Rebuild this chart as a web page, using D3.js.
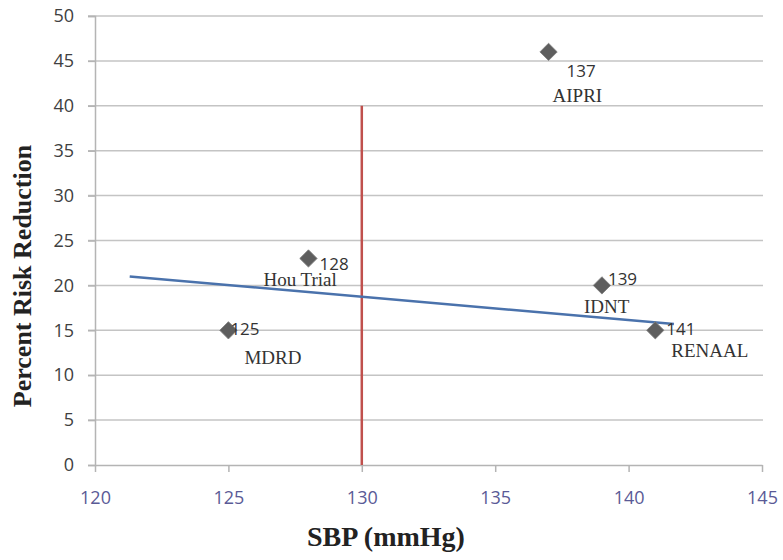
<!DOCTYPE html>
<html><head><meta charset="utf-8">
<script src="https://cdn.jsdelivr.net/npm/d3@7"></script>
<style>body{margin:0;background:#fff}</style>
</head><body>
<svg id="c" width="783" height="560"></svg>
<script>
const sbp = [125, 128, 137, 139, 141];
const reduction = [15, 23, 46, 20, 15];
const trials = ["MDRD", "Hou Trial", "AIPRI", "IDNT", "RENAAL"];
const xTicks = [120, 125, 130, 135, 140, 145];
const yTicks = [0, 5, 10, 15, 20, 25, 30, 35, 40, 45, 50];
const trendX = [121.3, 141.7];
const trendY = [21.0, 15.7];
const thresholdX = [130, 130];
const thresholdY = [0, 40];

const svg = d3.select("#c");
const x = d3.scaleLinear().domain([120, 145]).range([95, 762]);
const y = d3.scaleLinear().domain([0, 50]).range([465, 16]);

// gridlines
svg.append("g").selectAll("line").data(yTicks.filter(d => d > 0)).join("line")
  .attr("x1", 88).attr("x2", 763).attr("y1", d => y(d)).attr("y2", d => y(d))
  .attr("stroke", "#c4c4c4").attr("stroke-width", 1.5);

// y axis
const ya = svg.append("g").attr("transform", "translate(95,0)")
  .call(d3.axisLeft(y).tickValues(yTicks).tickSize(7).tickPadding(14));
ya.select(".domain").attr("stroke", "#b4b4b4").attr("stroke-width", 1.5);
ya.selectAll(".tick line").attr("stroke", "#b4b4b4").attr("stroke-width", 1.5);
ya.selectAll("text").attr("font-family", "'Open Sans', sans-serif").attr("font-size", 18).attr("fill", "#404040");

// x axis
const xa = svg.append("g").attr("transform", "translate(0,465)")
  .call(d3.axisBottom(x).tickValues(xTicks).tickSize(7).tickSizeOuter(0).tickPadding(19));
xa.select(".domain").attr("stroke", "#b4b4b4").attr("stroke-width", 1.5);
xa.selectAll(".tick line").attr("stroke", "#b4b4b4").attr("stroke-width", 1.5);
xa.selectAll("text").attr("font-family", "'Open Sans', sans-serif").attr("font-size", 18).attr("fill", "#5a5a96");

// threshold line
svg.append("line")
  .attr("x1", x(thresholdX[0])).attr("x2", x(thresholdX[1]))
  .attr("y1", y(thresholdY[0])).attr("y2", y(thresholdY[1]))
  .attr("stroke", "#c0504d").attr("stroke-width", 2.5);

// trend line
svg.append("line")
  .attr("x1", x(trendX[0])).attr("x2", x(trendX[1]))
  .attr("y1", y(trendY[0])).attr("y2", y(trendY[1]))
  .attr("stroke", "#4a72ac").attr("stroke-width", 2.5);

const pts = sbp.map((v, i) => ({x: v, y: reduction[i], name: trials[i]}));

// diamonds
svg.append("g").selectAll("path").data(pts).join("path")
  .attr("d", d3.symbol().type(d3.symbolSquare).size(150))
  .attr("transform", d => `translate(${x(d.x)},${y(d.y)}) rotate(45)`)
  .attr("fill", "#5e5e5e").attr("stroke", "#808080").attr("stroke-width", 0.8);

// labels: value and trial name offsets
const numOff = [[2, 5], [11, 12], [18, 25], [6, 0], [11, 5]];
const nameOff = [[16, 34], [-45, 28], [4, 50], [-18, 28], [16, 27]];
const lab = svg.append("g");
lab.selectAll("text.n").data(pts).join("text").attr("class", "n")
  .attr("x", (d, i) => x(d.x) + numOff[i][0]).attr("y", (d, i) => y(d.y) + numOff[i][1])
  .attr("font-family", "'Open Sans', sans-serif").attr("font-size", 17).attr("fill", "#333")
  .text(d => d.x);
lab.selectAll("text.t").data(pts).join("text").attr("class", "t")
  .attr("x", (d, i) => x(d.x) + nameOff[i][0]).attr("y", (d, i) => y(d.y) + nameOff[i][1])
  .attr("font-family", "'Liberation Serif', 'DejaVu Serif', serif").attr("font-size", 19).attr("fill", "#333")
  .text(d => d.name);

// axis titles
svg.append("text").attr("x", 386).attr("y", 546).attr("text-anchor", "middle")
  .attr("font-family", "'Liberation Serif', serif").attr("font-weight", "bold").attr("font-size", 28)
  .attr("fill", "#222").text("SBP (mmHg)");
svg.append("text").attr("transform", "translate(31,276) rotate(-90)").attr("text-anchor", "middle")
  .attr("font-family", "'Liberation Serif', serif").attr("font-weight", "bold").attr("font-size", 26)
  .attr("fill", "#222").text("Percent Risk Reduction");
</script>
</body></html>
